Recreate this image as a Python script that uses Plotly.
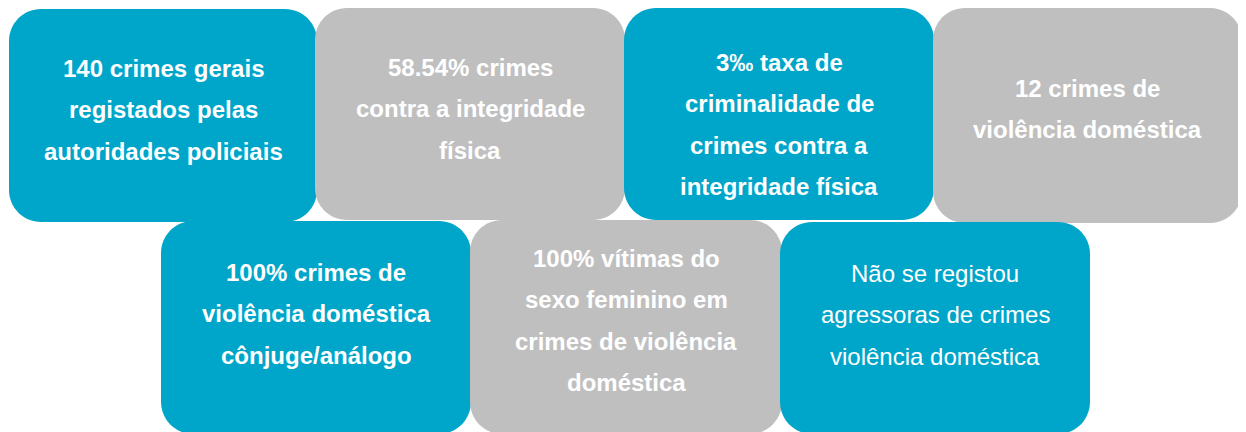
import plotly.graph_objects as go

# ---- data ----
box_texts = [
    ["140 crimes gerais", "registados pelas", "autoridades policiais"],
    ["58.54% crimes", "contra a integridade", "física"],
    ["3‰ taxa de", "criminalidade de", "crimes contra a", "integridade física"],
    ["12 crimes de", "violência doméstica"],
    ["100% crimes de", "violência doméstica", "cônjuge/análogo"],
    ["100% vítimas do", "sexo feminino em", "crimes de violência", "doméstica"],
    ["Não se registou", "agressoras de crimes", "violência doméstica"],
]
box_kind = ["blue", "grey", "blue", "grey", "blue", "grey", "blue"]
box_bold = [True, True, True, True, True, True, False]

# ---- layout (pixels, page coordinates) ----
W, H = 1246, 432
OFF = 8  # default page body margin
boxes = [  # x0, x1, y0, y1
    (9, 317, 9, 222),
    (315, 625, 8, 220),
    (624, 934, 8, 220),
    (933, 1242, 8, 223),
    (161, 471, 221, 434),
    (470, 782, 220, 434),
    (780, 1090, 222, 434),
]
first_line_y = [68, 67, 62, 88, 272, 258, 273]
line_gap = 41.5
radius = 32
colors = {"blue": "#00A6C9", "grey": "#BFBFBF"}


def rounded_path(x0, x1, y0, y1, r):
    k = 0.5523 * r
    return (
        f"M {x0+r},{y0} L {x1-r},{y0} "
        f"C {x1-r+k},{y0} {x1},{y0+r-k} {x1},{y0+r} "
        f"L {x1},{y1-r} "
        f"C {x1},{y1-r+k} {x1-r+k},{y1} {x1-r},{y1} "
        f"L {x0+r},{y1} "
        f"C {x0+r-k},{y1} {x0},{y1-r+k} {x0},{y1-r} "
        f"L {x0},{y0+r} "
        f"C {x0},{y0+r-k} {x0+r-k},{y0} {x0+r},{y0} Z"
    )


shapes = []
annotations = []
for i, (x0, x1, y0, y1) in enumerate(boxes):
    shapes.append(dict(
        type="path", xref="x", yref="y",
        path=rounded_path(x0, x1, y0, y1, radius),
        fillcolor=colors[box_kind[i]], line=dict(width=0), layer="below",
    ))
    cx = (x0 + x1) / 2
    for j, line in enumerate(box_texts[i]):
        txt = f"<b>{line}</b>" if box_bold[i] else line
        annotations.append(dict(
            x=cx, y=first_line_y[i] + j * line_gap, xref="x", yref="y",
            text=txt, showarrow=False, xanchor="center", yanchor="middle",
            font=dict(family="Liberation Sans, Arial, sans-serif", size=24, color="white"),
        ))

fig = go.Figure()
fig.update_layout(
    width=W - OFF, height=H - OFF,
    margin=dict(l=0, r=0, t=0, b=0),
    paper_bgcolor="white", plot_bgcolor="white",
    xaxis=dict(range=[OFF, W], visible=False, fixedrange=True),
    yaxis=dict(range=[H, OFF], visible=False, fixedrange=True),
    shapes=shapes, annotations=annotations, showlegend=False,
)
fig.write_html("out.html")
